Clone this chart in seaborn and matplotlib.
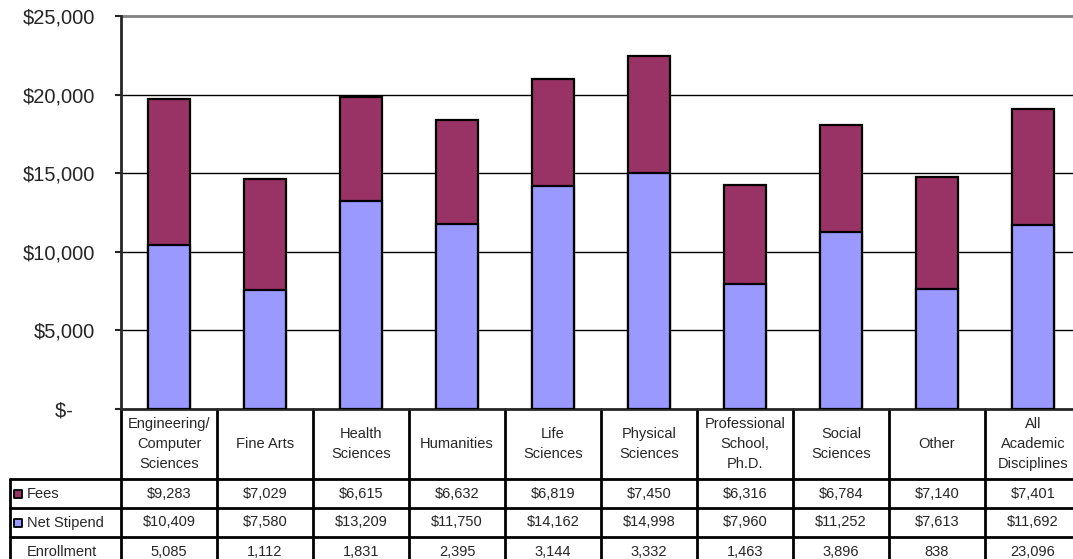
import matplotlib
matplotlib.use("Agg")
import matplotlib.pyplot as plt
import matplotlib.transforms as mtransforms
import seaborn as sns
import pandas as pd

# chart data
disciplines = ["Engineering/\nComputer\nSciences", "Fine Arts", "Health\nSciences",
               "Humanities", "Life\nSciences", "Physical\nSciences",
               "Professional\nSchool,\nPh.D.", "Social\nSciences", "Other",
               "All\nAcademic\nDisciplines"]
fees = [9283, 7029, 6615, 6632, 6819, 7450, 6316, 6784, 7140, 7401]
net_stipend = [10409, 7580, 13209, 11750, 14162, 14998, 7960, 11252, 7613, 11692]
enrollment = [5085, 1112, 1831, 2395, 3144, 3332, 1463, 3896, 838, 23096]
y_ticks = [0, 5000, 10000, 15000, 20000, 25000]

FEES_COLOR = "#993366"
STIPEND_COLOR = "#9999FF"

df = pd.DataFrame({
    "discipline": [str(i) for i in range(len(disciplines))],
    "fees": fees,
    "stipend": net_stipend,
})
df["total"] = df["fees"] + df["stipend"]

sns.set_style("white")
plt.rcParams["font.family"] = ["Liberation Sans", "DejaVu Sans"]

fig = plt.figure(figsize=(10.73, 5.59), dpi=100)
ax = fig.add_axes([121 / 1073, 1 - 409 / 559, 960 / 1073, 393 / 559])

# stacked bars: total first (fees colour), net stipend drawn over it
sns.barplot(data=df, x="discipline", y="total", color=FEES_COLOR, saturation=1,
            width=0.43, edgecolor="black", linewidth=1.6, ax=ax, zorder=3)
sns.barplot(data=df, x="discipline", y="stipend", color=STIPEND_COLOR, saturation=1,
            width=0.43, edgecolor="black", linewidth=1.6, ax=ax, zorder=4)

ax.set_xlim(-0.5, len(disciplines) - 0.5)
ax.set_ylim(0, 25000)
ax.set_yticks(y_ticks)
ax.set_yticklabels([f"${v:,}" if v else "$-    " for v in y_ticks], fontsize=14.5)
ax.tick_params(axis="y", length=4.5, width=1.5, pad=14, direction="out", left=True)
ax.set_xticks([])
ax.set_xlabel("")
ax.set_ylabel("")

for v in y_ticks[1:-1]:
    ax.axhline(v, color="black", linewidth=1, zorder=1)
ax.axhline(25000, color="#808080", linewidth=2, zorder=1, clip_on=False)

for side in ["top", "right"]:
    ax.spines[side].set_visible(False)
ax.spines["left"].set_linewidth(2)
ax.spines["bottom"].set_linewidth(2)

# data table below the plot
trans = mtransforms.blended_transform_factory(ax.transData, ax.transAxes)
px = 1 / 393  # one pixel in axes-fraction height
header_bottom = -70 * px
row_h = 29 * px
rows_bottom = header_bottom - 3 * row_h
left_edge = -111 / 960
line_kw = dict(color="black", linewidth=2, clip_on=False)

n = len(disciplines)
for i in range(n + 1):
    x = i - 0.5
    ax.plot([x, x], [0, rows_bottom], transform=trans, **line_kw)
for y in [header_bottom, header_bottom - row_h, header_bottom - 2 * row_h]:
    ax.plot([left_edge, 1], [y, y], transform=ax.transAxes, **line_kw)
ax.plot([left_edge, left_edge], [header_bottom, rows_bottom], transform=ax.transAxes, **line_kw)

for i, name in enumerate(disciplines):
    ax.text(i, header_bottom / 2, name, transform=trans, ha="center", va="center",
            fontsize=10.5, linespacing=1.55, clip_on=False)

row_labels = ["Fees", "Net Stipend", "Enrollment"]
row_values = [[f"${v:,}" for v in fees], [f"${v:,}" for v in net_stipend],
              [f"{v:,}" for v in enrollment]]
row_colors = [FEES_COLOR, STIPEND_COLOR, None]
for r, (label, vals, col) in enumerate(zip(row_labels, row_values, row_colors)):
    yc = header_bottom - (r + 0.5) * row_h
    ax.text(left_edge + 17 / 960, yc, label, transform=ax.transAxes, ha="left",
            va="center", fontsize=10.5, clip_on=False)
    if col:
        ax.scatter([left_edge + 8 / 960], [yc], transform=ax.transAxes, marker="s", s=32,
                   color=col, edgecolor="black", linewidth=1.3, clip_on=False, zorder=5)
    for i, v in enumerate(vals):
        ax.text(i, yc, v, transform=trans, ha="center", va="center",
                fontsize=10.5, clip_on=False)

fig.savefig("out.png", dpi=100)
